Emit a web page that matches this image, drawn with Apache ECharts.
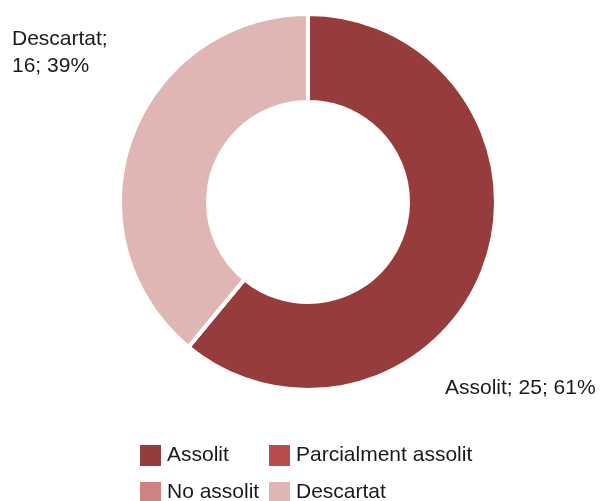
<!DOCTYPE html>
<html>
<head>
<meta charset="utf-8">
<script src="https://cdn.jsdelivr.net/npm/echarts@6/dist/echarts.min.js"></script>
<style>
  html, body { margin: 0; padding: 0; background: #fff; }
  #chart { width: 611px; height: 501px; }
</style>
</head>
<body>
<div id="chart"></div>
<script>
// dades del gràfic
var categories = ['Assolit', 'Parcialment assolit', 'No assolit', 'Descartat'];
var values = [25, 0, 0, 16];
var colors = ['#963c3c', '#b94b4a', '#d08181', '#dfb6b4'];
var labelSpots = [[445, 388], null, null, [12, 53]];

var chart = echarts.init(document.getElementById('chart'));
var fontFam = '"Liberation Sans", Arial, sans-serif';

var total = values.reduce(function (a, b) { return a + b; }, 0);
var pieData = categories.map(function (name, i) {
  return { name: name, value: values[i], itemStyle: { color: colors[i] } };
});

function legendCol(left, names) {
  return {
    orient: 'vertical',
    left: left,
    top: 443,
    height: 120,
    padding: 0,
    icon: 'rect',
    itemWidth: 23,
    itemHeight: 23,
    itemGap: 12,
    selectedMode: false,
    textStyle: { fontFamily: fontFam, fontSize: 21, color: '#1a1a1a' },
    data: names
  };
}

var option = {
  animation: false,
  legend: [
    legendCol(138, ['Assolit', 'No assolit']),
    legendCol(267, ['Parcialment assolit', 'Descartat'])
  ],
  series: [
    {
      type: 'pie',
      center: [308, 202],
      radius: [100, 188],
      startAngle: 90,
      clockwise: true,
      minAngle: 0,
      itemStyle: { borderColor: '#fff', borderWidth: 4 },
      label: {
        show: true,
        position: 'outside',
        fontFamily: fontFam,
        fontSize: 21,
        lineHeight: 27,
        color: '#1a1a1a',
        align: 'left',
        width: 300,
        overflow: 'none',
        formatter: function (p) {
          if (!p.value) return '';
          var pct = Math.round(p.value / total * 100);
          if (p.dataIndex === 3) return p.name + ';\n' + p.value + '; ' + pct + '%';
          return p.name + '; ' + p.value + '; ' + pct + '%';
        }
      },
      labelLine: { show: false },
      labelLayout: function (params) {
        var s = labelSpots[params.dataIndex];
        if (!s) return {};
        return { x: s[0], y: s[1], align: 'left', verticalAlign: 'middle' };
      },
      emphasis: { disabled: true },
      data: pieData
    }
  ]
};

chart.setOption(option);
</script>
</body>
</html>
